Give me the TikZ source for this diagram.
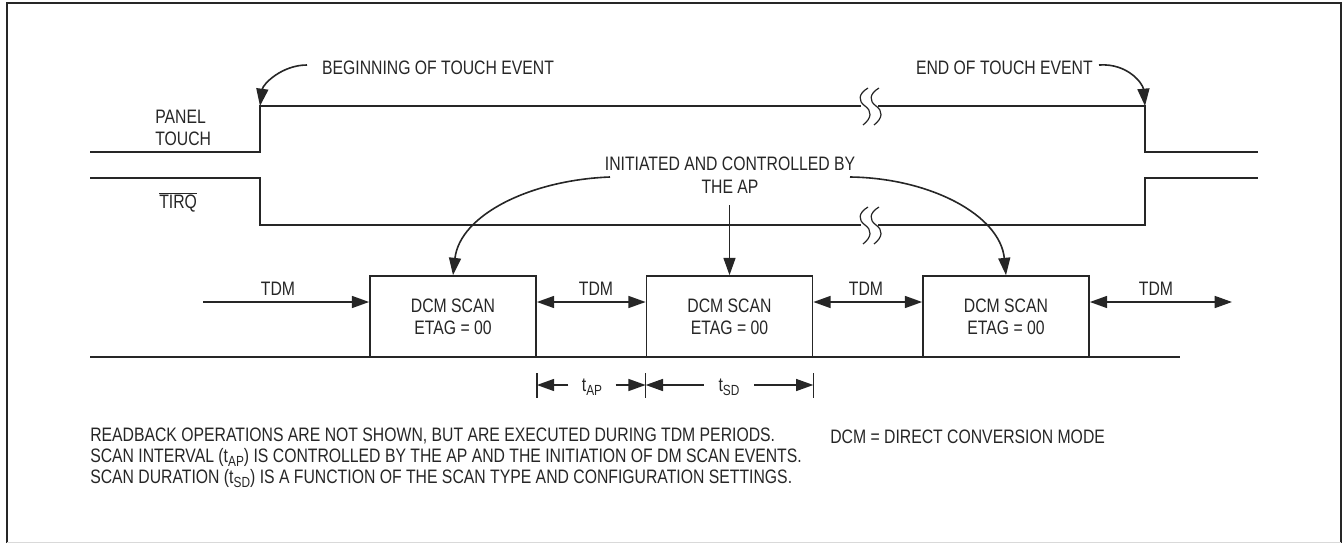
\documentclass[tikz,border=0pt]{standalone}
\usepackage{fontspec}
\setmainfont{Liberation Sans}[FakeStretch=0.81]
\usetikzlibrary{arrows.meta,calc}
\newcommand{\lowtxt}[1]{\raisebox{-0.35ex}{\fontsize{11}{12}\selectfont #1}}
\begin{document}
\begin{tikzpicture}[x=0.75pt,y=-0.75pt,
  every node/.style={font=\fontsize{14.6}{15.75}\selectfont, text=black!85},
  wave/.style={line width=1.25pt, draw=black!85},
  arr/.style={line width=1.2pt, draw=black!85, -{Triangle[length=13pt,width=9pt]}},
  dbl/.style={line width=1.2pt, draw=black!85, {Triangle[length=13pt,width=9pt]}-{Triangle[length=13pt,width=9pt]}},
  scanbox/.style={draw=black!85, line width=1.25pt, minimum width=166*0.75pt, minimum height=81*0.75pt, align=center, inner sep=0pt, font=\fontsize{14.6}{16.5}\selectfont},
  lbl/.style={inner sep=0pt},
  brk/.style={line width=0.9pt, draw=black!85}]
\useasboundingbox (0,0) rectangle (1343,543);
% frame
\draw[line width=2pt, black!85] (7,543) -- (7,3) -- (1341,3) -- (1341,543);
\draw[line width=0.6pt, black!15] (7,542) -- (1341,542);

% PANEL TOUCH waveform
\coordinate (p1) at (260,106);
\coordinate (p2) at (1145,106);
\draw[wave] (90,152) -- (260,152) -- (p1) -- (p2) -- (1145,152) -- (1258,152);
% TIRQ waveform
\draw[wave] (90,178) -- (260,178) -- (260,225) -- (1145,225) -- (1145,178) -- (1258,178);

% break marks
\foreach \yy in {106,225}{
  \fill[white] (861,\yy-4) rectangle (878,\yy+4);
  \foreach \xx in {862,873}{
    \draw[brk] (\xx+6,\yy-18) .. controls (\xx-4,\yy-12) and (\xx-4,\yy-5) .. (\xx+3,\yy)
      .. controls (\xx+10,\yy+5) and (\xx+10,\yy+12) .. (\xx+1,\yy+19);
  }
}

% labels
\node[lbl, anchor=west, align=left, font=\fontsize{14.6}{16.5}\selectfont] (panel) at (155,128) {PANEL\\TOUCH};
\node[lbl, anchor=west] (tirq) at (159,202) {$\overline{\mbox{TIRQ}}$};
\node[lbl] (begin) at (438,68) {BEGINNING OF TOUCH EVENT};
\node[lbl, anchor=east] (endev) at (1093,68) {END OF TOUCH EVENT};
\coordinate (bs) at (307,65);
\coordinate (es) at (1099,65);
\draw[arr] (bs) .. controls (282,65) and (263,84) .. (p1);
\draw[arr] (es) .. controls (1128,63) and (1143,84) .. (p2);

% AP annotation
\node[lbl, align=center, font=\fontsize{14.6}{17.25}\selectfont] (ap) at (730,175) {INITIATED AND CONTROLLED BY\\THE AP};

% baseline
\draw[wave] (90,357) -- (1180,357);

% scan boxes
\node[scanbox] (b1) at (453,316.5) {DCM SCAN\\ETAG = 00};
\node[scanbox] (b2) at (729.5,316.5) {DCM SCAN\\ETAG = 00};
\node[scanbox] (b3) at (1006,316.5) {DCM SCAN\\ETAG = 00};

\coordinate (aL) at (610,177);
\coordinate (aM) at (b2.north |- 0,205);
\coordinate (aR) at (850,177);
\draw[arr] (aL) .. controls (530,180) and (460,215) .. (b1.north);
\draw[arr] (aM) -- (b2.north);
\draw[arr] (aR) .. controls (930,178) and (1000,215) .. (b3.north);

% TDM arrows
\coordinate (ly) at (0,302);
\coordinate (t0) at (203,302);
\coordinate (t4) at (1232,302);
\draw[arr] (t0) -- (t0 -| b1.west);
\draw[dbl] (b1.east |- ly) -- (b2.west |- ly);
\draw[dbl] (b2.east |- ly) -- (b3.west |- ly);
\draw[dbl] (b3.east |- ly) -- (t4);
\node[lbl] (tdm1) at (278,289) {TDM};
\node[lbl] (tdm2) at (596,289) {TDM};
\node[lbl] (tdm3) at (866,289) {TDM};
\node[lbl] (tdm4) at (1156,289) {TDM};

% dimension markers
\foreach \bb in {b1.east, b2.west, b2.east}{
  \draw[line width=1.2pt, black!85] ($(\bb |- 0,373)$) -- ($(\bb |- 0,398)$);
}
\node[lbl, inner xsep=10pt] (tap) at (592,387) {t\lowtxt{AP}};
\node[lbl, inner xsep=11pt] (tsd) at (729,387) {t\lowtxt{SD}};
\draw[arr] (tap.west |- 0,385) -- (b1.east |- 0,385);
\draw[arr] (tap.east |- 0,385) -- (b2.west |- 0,385);
\draw[arr] (tsd.west |- 0,385) -- (b2.west |- 0,385);
\draw[arr] (tsd.east |- 0,385) -- (b2.east |- 0,385);

% notes
\node[lbl, anchor=west, align=left] (notes) at (90,458) {READBACK OPERATIONS ARE NOT SHOWN, BUT ARE EXECUTED DURING TDM PERIODS.\\SCAN INTERVAL (t\lowtxt{AP}) IS CONTROLLED BY THE AP AND THE INITIATION OF DM SCAN EVENTS.\\SCAN DURATION (t\lowtxt{SD}) IS A FUNCTION OF THE SCAN TYPE AND CONFIGURATION SETTINGS.};
\node[lbl, anchor=west] (dcm) at (830,437) {DCM = DIRECT CONVERSION MODE};
\end{tikzpicture}
\end{document}
